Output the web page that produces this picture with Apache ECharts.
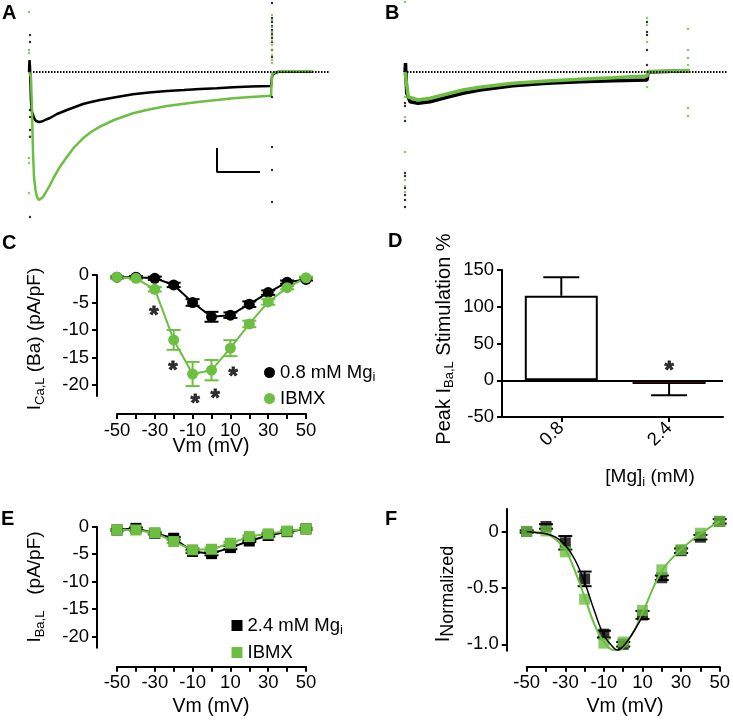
<!DOCTYPE html>
<html>
<head>
<meta charset="utf-8">
<script src="https://cdn.jsdelivr.net/npm/echarts@6/dist/echarts.min.js"></script>
<style>
  html, body { margin: 0; padding: 0; background: #fff; }
  #chart { width: 733px; height: 720px; }
</style>
</head>
<body>
<div id="chart"></div>
<script>
// ---------- data ----------
// A: raw current traces (time, current in arbitrary units), control vs IBMX, 0.8 mM Mg
const traceA_ctrl = [[0,0],[0.5,12],[1,5],[2,-30],[3,-40],[5,-46],[7,-49],[10,-50],[13,-49.5],[17,-47.5],[21,-46],[28,-42],[38,-38],[46,-35],[54,-32],[62,-30],[71,-28],[85,-25.5],[104,-22.3],[120,-20.5],[138,-19],[155,-18],[171,-17],[188,-16.2],[204,-15.3],[222,-14.6],[242,-14],[243,-5],[244,-2],[246,-0.5],[250,0.3],[284,0.3]];
const traceA_ibmx = [[0,0],[1,-2],[2,-5],[3,-40],[4,-80],[5,-105],[6.5,-118],[8,-125],[10,-128],[12,-127.5],[14.3,-124.7],[17,-120],[21,-113],[25,-105],[31,-94.7],[38,-84.7],[45,-75.5],[54,-66.3],[62,-60],[71,-54.7],[85,-48],[104,-41.3],[120,-37.5],[138,-34],[155,-31.8],[171,-29.7],[188,-28],[204,-26.3],[222,-25],[242,-23.7],[243,-4],[244,-1],[246,0.5],[250,0.8],[284,0.8]];
const dotsA_ctrl = [[1,37],[1,30],[1,-38],[1,-45],[1,-58],[1,-64.7],[1,-145],[243,69],[243,54],[243,50],[243,46],[243,42],[243,38],[243,34],[243,30],[243,22],[243,15],[243,-25],[243,-75],[243,-98],[243,-130]];
const dotsA_ibmx = [[0,60],[0,22],[0,19],[0,-86],[0,-91],[0,-121],[243,57],[243,52],[243,45],[243,40],[243,36],[243,31],[243,27],[243,22],[243,17],[243,12],[243,9]];
const scaleBarA = [[188,-76],[188,-100],[231,-100]];
const baselineA = [[4,0],[301,0]];

// B: raw current traces, 2.4 mM Mg
const traceB_ctrl = [[0,0],[0.5,9],[1.7,-21],[5,-29.7],[13,-31.3],[25,-29.7],[42,-25.3],[58,-21.3],[75,-18],[108,-13.7],[142,-11.3],[175,-9.7],[208,-8.7],[242,-8],[243,0],[245,1.2],[285,1.2]];
const traceB_ibmx = [[0,0],[0.5,2],[3.3,-25],[13,-28],[25,-26.3],[42,-22],[58,-18],[75,-15.3],[108,-11.3],[142,-9],[175,-7.3],[208,-5.7],[242,-4],[243,0.5],[245,1.5],[285,1.5]];
const dotsB_ctrl = [[0,-31],[0,-34],[0,-49],[0,-101],[0,-104],[0,-116],[0,-123],[0,-128],[0,-135],[242,50],[242,40],[242,37],[242,22],[242,7]];
const dotsB_ibmx = [[0,70],[0,-25],[0,-45],[0,-80],[0,-108],[0,-114],[0,-120],[242,54],[242,47],[242,30],[242,-15],[283,43],[283,22],[283,14],[283,7],[283,-36],[283,-44]];
const baselineB = [[2,0],[322,0]];

// I-V relations
const vm = [-50, -40, -30, -20, -10, 0, 10, 20, 30, 40, 50];
const vmLabels = [-50, -30, -10, 10, 30, 50];

// C: 0.8 mM Mg
const cCtrl = [-0.4, -0.4, -0.6, -1.8, -5.0, -7.6, -7.3, -5.3, -3.2, -1.3, -0.8];
const cCtrlErr = [0.2, 0.2, 0.3, 0.4, 0.6, 0.9, 0.5, 0.5, 0.4, 0.3, 0.2];
const cIbmx = [-0.4, -0.6, -2.6, -11.8, -18.0, -17.3, -13.3, -8.9, -4.9, -2.3, -0.5];
const cIbmxErr = [0.2, 0.2, 0.4, 1.8, 2.2, 1.85, 1.45, 0.6, 0.5, 0.3, 0.2];
const cStars = [[-30.4, -6.4], [-20.4, -16.4], [-8.7, -22.4], [1.9, -21.6], [11.4, -17.6]];

// D: peak stimulation by IBMX
const dCats = ['0.8', '2.4'];
const dMean = [115, -5];
const dErr = [25, 15.5];
const dStars = [[1, 20]];

// E: 2.4 mM Mg
const eCtrl = [-0.6, -0.3, -1.2, -2.1, -4.5, -4.9, -3.8, -2.6, -1.6, -0.9, -0.4];
const eCtrlErr = [0.15, 0.15, 0.2, 0.25, 0.3, 0.3, 0.3, 0.2, 0.2, 0.15, 0.15];
const eIbmx = [-0.6, -0.6, -1.1, -2.7, -4.2, -4.1, -3.0, -1.8, -1.3, -0.8, -0.4];
const eIbmxErr = [0.15, 0.15, 0.2, 0.25, 0.3, 0.3, 0.25, 0.2, 0.2, 0.15, 0.15];

// F: normalized I-V with fits
const fCtrl = [0, 0.045, -0.10, -0.42, -0.91, -1.0, -0.74, -0.41, -0.17, -0.05, 0.09];
const fCtrlErr = [0.01, 0.02, 0.06, 0.065, 0.03, 0.02, 0.035, 0.02, 0.02, 0.02, 0.02];
const fIbmx = [0, 0.005, -0.18, -0.60, -0.99, -0.98, -0.70, -0.34, -0.16, -0.015, 0.09];
const fitCtrlV = [-50, -45, -40, -35, -30, -25, -20, -15, -10, -5, -3, 0, 5, 10];
const fitCtrl = [0, -0.01, -0.02, -0.05, -0.12, -0.25, -0.45, -0.70, -0.92, -1.03, -1.05, -1.02, -0.90, -0.75];
const fitIbmxV = [-50, -40, -35, -30, -25, -20, -15, -10, -5, -2, 0, 5, 10, 20, 30, 40, 50];
const fitIbmx = [0, -0.02, -0.07, -0.16, -0.35, -0.58, -0.82, -0.98, -1.05, -1.05, -1.03, -0.90, -0.72, -0.35, -0.16, -0.02, 0.09];

// ---------- styling ----------
const GREEN = '#6cbf41';
const BLACK = '#000';
const FONT = '"Liberation Sans", Arial, Helvetica, sans-serif';
const TICK = 18.5;
const SUB = { fontSize: 13, fontFamily: FONT, color: '#000', padding: [10, 0, 0, 0] };

const pairs = (xs, ys) => xs.map((x, i) => [x, ys[i]]);
const errs = (xs, ys, es) => xs.map((x, i) => [x, ys[i] - es[i], ys[i] + es[i]]);

function hiddenAxis(grid, min, max) {
  return { gridIndex: grid, type: 'value', min, max, show: false };
}

function plainAxis(grid, opts) {
  return Object.assign({
    gridIndex: grid,
    type: 'value',
    splitLine: { show: false },
    axisLine: { show: true, onZero: false, lineStyle: { color: BLACK, width: 2 } },
    axisTick: { show: true, length: 5, lineStyle: { color: BLACK, width: 2 } },
    axisLabel: { color: BLACK, fontSize: TICK, fontFamily: FONT, margin: 8 }
  }, opts);
}

function vmAxis(grid, offset) {
  return plainAxis(grid, {
    min: -50, max: 50, interval: 10, offset,
    axisLabel: {
      color: BLACK, fontSize: TICK, fontFamily: FONT, margin: 7,
      formatter: v => vmLabels.indexOf(v) >= 0 ? String(v) : ''
    }
  });
}

function errorSeries(grid, data, color, capHalf, both) {
  return {
    type: 'custom',
    xAxisIndex: grid, yAxisIndex: grid,
    z: 1, silent: true, clip: false,
    data,
    renderItem(params, api) {
      const a = api.coord([api.value(0), api.value(1)]);
      const b = api.coord([api.value(0), api.value(2)]);
      const st = { stroke: color, lineWidth: 2 };
      const kids = [{ type: 'line', shape: { x1: a[0], y1: a[1], x2: b[0], y2: b[1] }, style: st }];
      const ends = both ? [a, b] : [b];
      ends.forEach(p => kids.push({ type: 'line', shape: { x1: p[0] - capHalf, y1: p[1], x2: p[0] + capHalf, y2: p[1] }, style: st }));
      return { type: 'group', children: kids };
    }
  };
}

function trace(grid, data, color, width, z, dash) {
  return { type: 'line', xAxisIndex: grid, yAxisIndex: grid, data, showSymbol: false, symbol: 'none',
    clip: false, z, lineStyle: { color, width, type: dash || 'solid' }, itemStyle: { color } };
}

function dots(grid, data, color) {
  return { type: 'scatter', xAxisIndex: grid, yAxisIndex: grid, data, symbolSize: 2.5, clip: false, z: 3,
    itemStyle: { color } };
}

function ivLine(grid, name, data, color, symbol) {
  return { type: 'line', name, xAxisIndex: grid, yAxisIndex: grid, data, symbol, symbolSize: 11,
    clip: false, z: 2, lineStyle: { color, width: 2 }, itemStyle: { color } };
}

function stars(grid, data) {
  return { type: 'scatter', xAxisIndex: grid, yAxisIndex: grid, data, symbolSize: 1, clip: false, z: 4,
    itemStyle: { color: 'rgba(255,255,255,0)' },
    label: { show: true, formatter: '*', position: 'inside', offset: [0, 6], color: BLACK,
      fontSize: 24, fontWeight: 'bold', fontFamily: FONT,
      textBorderColor: BLACK, textBorderWidth: 0.8 } };
}

function title(x, y, text, rotate, size) {
  return {
    type: 'text', x, y, rotation: rotate ? Math.PI / 2 : 0, silent: true,
    style: { text, fill: BLACK, fontSize: size || 19, fontFamily: FONT,
      align: 'center', verticalAlign: 'middle', textAlign: 'center', textVerticalAlign: 'middle',
      rich: { s: SUB, n: { fontSize: 18, fontFamily: FONT, color: '#000', padding: [11, 0, 0, 0] } } }
  };
}

function letter(x, y, t) {
  return { type: 'text', x, y, silent: true,
    style: { text: t, fill: BLACK, fontSize: 20, fontWeight: 'bold', fontFamily: FONT,
      align: 'left', verticalAlign: 'middle', textAlign: 'left', textVerticalAlign: 'middle' } };
}

const chart = echarts.init(document.getElementById('chart'));

const option = {
  animation: false,
  backgroundColor: '#fff',
  textStyle: { fontFamily: FONT },
  grid: [
    { left: 29, top: 0, width: 302, height: 220 },
    { left: 405, top: 0, width: 322, height: 220 },
    { left: 117, top: 275, width: 189, height: 121 },
    { left: 502, top: 270, width: 221, height: 147 },
    { left: 117, top: 526.7, width: 189, height: 121 },
    { left: 526.7, top: 509, width: 196.6, height: 141.7 }
  ],
  xAxis: [
    hiddenAxis(0, 0, 302),
    hiddenAxis(1, 0, 322),
    vmAxis(2, 18),
    plainAxis(3, {
      min: -0.55, max: 1.5,
      axisTick: { show: true, length: 5, customValues: [0, 1], lineStyle: { color: BLACK, width: 2 } },
      axisLabel: { color: BLACK, fontSize: TICK, fontFamily: FONT, margin: 8, rotate: 45,
        customValues: [0, 1], formatter: v => dCats[Math.round(v)] }
    }),
    vmAxis(4, 19),
    vmAxis(5, 16)
  ],
  yAxis: [
    hiddenAxis(0, -148, 72),
    hiddenAxis(1, -148, 72),
    plainAxis(2, {
      min: -22, max: 0, offset: 20,
      axisTick: { show: true, length: 5, customValues: [0, -5, -10, -15, -20], lineStyle: { color: BLACK, width: 2 } },
      axisLabel: { color: BLACK, fontSize: TICK, fontFamily: FONT, margin: 8, customValues: [0, -5, -10, -15, -20] }
    }),
    plainAxis(3, { min: -50, max: 150, interval: 50 }),
    plainAxis(4, {
      min: -22, max: 0, offset: 20,
      axisTick: { show: true, length: 5, customValues: [0, -5, -10, -15, -20], lineStyle: { color: BLACK, width: 2 } },
      axisLabel: { color: BLACK, fontSize: TICK, fontFamily: FONT, margin: 8, customValues: [0, -5, -10, -15, -20] }
    }),
    plainAxis(5, {
      min: -1.057, max: 0.2, offset: 20,
      axisTick: { show: true, length: 5, customValues: [0, -0.5, -1], lineStyle: { color: BLACK, width: 2 } },
      axisLabel: { color: BLACK, fontSize: TICK, fontFamily: FONT, margin: 8, customValues: [0, -0.5, -1],
        formatter: v => v === 0 ? '0' : v.toFixed(1) }
    })
  ],
  legend: [
    {
      data: ['0.8 mM Mgi', 'IBMX'],
      left: 259, top: 358, orient: 'vertical', icon: 'circle',
      itemWidth: 11, itemHeight: 11, itemGap: 5, selectedMode: false,
      formatter: n => n.replace(/Mgi$/, 'Mg{s|i}'),
      textStyle: { color: BLACK, fontSize: TICK, fontFamily: FONT, rich: { s: SUB } }
    },
    {
      data: [{ name: '2.4 mM Mgi', icon: 'rect' }, { name: 'IBMX', icon: 'rect' }],
      left: 226.5, top: 611, orient: 'vertical',
      itemWidth: 11, itemHeight: 11, itemGap: 6, selectedMode: false,
      formatter: n => n.replace(/Mgi$/, 'Mg{s|i}'),
      textStyle: { color: BLACK, fontSize: TICK, fontFamily: FONT, rich: { s: SUB } }
    }
  ],
  graphic: [
    letter(2, 13, 'A'), letter(385, 13, 'B'), letter(2, 243, 'C'),
    letter(388, 241, 'D'), letter(1, 519, 'E'), letter(385, 519, 'F'),
    title(35, 339, 'I{s|Ca,L} (Ba) (pA/pF)', true),
    title(211, 447, 'Vm (mV)', false, 19.5),
    title(444, 339, 'Peak I{s|Ba,L} Stimulation %', true, 20),
    title(650, 477, '[Mg]{s|i} (mM)'),
    title(35, 587, 'I{s|Ba,L}   (pA/pF)', true),
    title(211, 707, 'Vm (mV)', false, 19.5),
    title(443, 594, 'I{n|Normalized}', true, 20),
    title(625, 707, 'Vm (mV)', false, 19.5)
  ],
  series: [
    // A
    trace(0, traceA_ctrl, BLACK, 2.5, 2),
    trace(0, traceA_ibmx, GREEN, 2.5, 2),
    dots(0, dotsA_ctrl, BLACK),
    dots(0, dotsA_ibmx, GREEN),
    trace(0, baselineA, BLACK, 2, 5, [1.5, 1.5]),
    trace(0, scaleBarA, BLACK, 2, 2),
    // B
    trace(1, traceB_ctrl, BLACK, 3.5, 2),
    trace(1, traceB_ibmx, GREEN, 3.5, 2),
    dots(1, dotsB_ctrl, BLACK),
    dots(1, dotsB_ibmx, GREEN),
    trace(1, baselineB, BLACK, 2, 5, [1.5, 1.5]),
    // C
    errorSeries(2, errs(vm, cCtrl, cCtrlErr), BLACK, 7, true),
    errorSeries(2, errs(vm, cIbmx, cIbmxErr), GREEN, 7, true),
    ivLine(2, '0.8 mM Mgi', pairs(vm, cCtrl), BLACK, 'circle'),
    ivLine(2, 'IBMX', pairs(vm, cIbmx), GREEN, 'circle'),
    stars(2, cStars),
    // D
    {
      type: 'bar', xAxisIndex: 3, yAxisIndex: 3, barWidth: 73, z: 2,
      data: dMean.map((v, i) => ({
        value: [i, v],
        itemStyle: i === 0
          ? { color: '#fff', borderColor: BLACK, borderWidth: 2 }
          : { color: '#6e1313', borderColor: BLACK, borderWidth: 1.5 }
      })),
      markLine: { silent: true, symbol: 'none', label: { show: false },
        lineStyle: { color: BLACK, width: 2, type: 'solid' }, data: [{ yAxis: 0 }] }
    },
    errorSeries(3, dMean.map((v, i) => [i, v, v + (v >= 0 ? dErr[i] : -dErr[i])]), BLACK, 18, false),
    stars(3, dStars),
    // E
    errorSeries(4, errs(vm, eCtrl, eCtrlErr), BLACK, 7, true),
    errorSeries(4, errs(vm, eIbmx, eIbmxErr), GREEN, 7, true),
    ivLine(4, '2.4 mM Mgi', pairs(vm, eCtrl), BLACK, 'rect'),
    ivLine(4, 'IBMX', pairs(vm, eIbmx), GREEN, 'rect'),
    // F
    errorSeries(5, errs(vm, fCtrl, fCtrlErr), BLACK, 7, true),
    { type: 'scatter', xAxisIndex: 5, yAxisIndex: 5, data: pairs(vm, fCtrl), symbol: 'rect', symbolSize: 11,
      clip: false, z: 2, itemStyle: { color: BLACK } },
    { type: 'scatter', xAxisIndex: 5, yAxisIndex: 5, data: pairs(vm, fIbmx), symbol: 'rect', symbolSize: 11,
      clip: false, z: 2, itemStyle: { color: GREEN } },
    { type: 'line', xAxisIndex: 5, yAxisIndex: 5, data: pairs(fitIbmxV, fitIbmx), smooth: 0.4, showSymbol: false,
      symbol: 'none', clip: false, z: 3, lineStyle: { color: GREEN, width: 2 } },
    { type: 'line', xAxisIndex: 5, yAxisIndex: 5, data: pairs(fitCtrlV, fitCtrl), smooth: 0.4, showSymbol: false,
      symbol: 'none', clip: false, z: 3, lineStyle: { color: BLACK, width: 1.5 } }
  ]
};

chart.setOption(option);
window.onresize = () => chart.resize();
</script>
</body>
</html>
